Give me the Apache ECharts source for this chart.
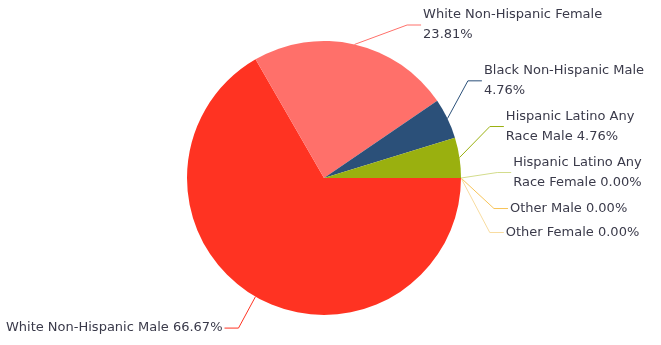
<!DOCTYPE html>
<html>
<head>
<meta charset="utf-8">
<title>Demographics</title>
<script src="https://cdn.jsdelivr.net/npm/echarts@6/dist/echarts.min.js"></script>
<style>
  html, body { margin: 0; padding: 0; background: #ffffff; }
  #chart { width: 661px; height: 345px; }
</style>
</head>
<body>
<div id="chart"></div>
<script>
// Group names and their share of the total (percent)
const categories = [
  'White Non-Hispanic Male',
  'White Non-Hispanic Female',
  'Black Non-Hispanic Male',
  'Hispanic Latino Any Race Male',
  'Hispanic Latino Any Race Female',
  'Other Male',
  'Other Female'
];
const shares = [66.67, 23.81, 4.76, 4.76, 0.00, 0.00, 0.00];

// Slice colours, one per group
const sliceColors = ['#FF3322', '#FF706A', '#2B5079', '#9AB00F', '#D3DC8C', '#F7C458', '#F8DCA0'];
// Wrap width of each label (0 = no wrapping)
const labelWidths = [0, 190, 180, 140, 140, 0, 0];
// Offsets of each label and its connector end, applied after the automatic layout
const labelShiftX = [0, 45, -6, -1, 5, 8, 12];
const labelShiftY = [2, 4, -23, -26, -22, -18, -16];

const data = categories.map((name, i) => {
  const item = {
    name: name,
    value: shares[i],
    itemStyle: { color: sliceColors[i] },
    labelLine: { lineStyle: { color: sliceColors[i] } }
  };
  if (labelWidths[i]) {
    item.label = { width: labelWidths[i], overflow: 'break' };
  }
  return item;
});

const chart = echarts.init(document.getElementById('chart'), null, { renderer: 'canvas' });
chart.setOption({
  animation: false,
  series: [{
    type: 'pie',
    center: [324, 178],
    radius: 137,
    startAngle: 0,
    clockwise: true,
    data: data,
    avoidLabelOverlap: true,
    label: {
      show: true,
      position: 'outside',
      overflow: 'none',
      distanceToLabelLine: 2,
      formatter: (p) => p.name + ' ' + p.value.toFixed(2) + '%',
      color: '#3A3A4A',
      fontFamily: 'DejaVu Sans',
      fontSize: 13,
      lineHeight: 20
    },
    labelLine: {
      show: true,
      length: 34,
      length2: 14,
      lineStyle: { width: 1 }
    },
    labelLayout: (p) => {
      const dx = labelShiftX[p.dataIndex] || 0;
      const dy = labelShiftY[p.dataIndex] || 0;
      const pts = p.labelLinePoints;
      if ((!dx && !dy) || !pts) return {};
      return {
        dx: dx,
        dy: dy,
        labelLinePoints: [
          pts[0],
          [pts[1][0] + dx, pts[1][1] + dy],
          [pts[2][0] + dx, pts[2][1] + dy]
        ]
      };
    },
    emphasis: { disabled: true }
  }]
});
</script>
</body>
</html>
